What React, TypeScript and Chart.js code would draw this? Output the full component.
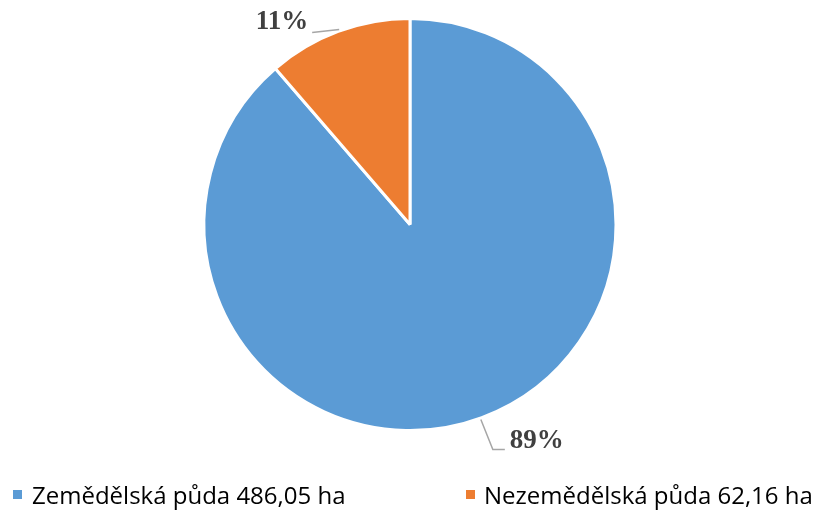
import React, { useEffect, useRef } from "react";
import { Chart, registerables } from "chart.js";

Chart.register(...registerables);

const categories = ["Zemědělská půda 486,05 ha", "Nezemědělská půda 62,16 ha"];
const values = [486.05, 62.16];
const percentLabels = ["89%", "11%"];
const colors = ["#5B9BD5", "#ED7D31"];

const labelPlugin = {
  id: "pctLabels",
  afterDatasetsDraw(chart: any) {
    const ctx = chart.ctx;
    const meta = chart.getDatasetMeta(0);
    ctx.save();
    ctx.font = "bold 27px 'Liberation Serif', 'Times New Roman', serif";
    ctx.fillStyle = "#404040";
    ctx.strokeStyle = "#A6A6A6";
    ctx.lineWidth = 1.5;
    meta.data.forEach((arc: any, i: number) => {
      const { x, y, startAngle, endAngle, outerRadius } = arc.getProps(
        ["x", "y", "startAngle", "endAngle", "outerRadius"],
        true
      );
      const mid = (startAngle + endAngle) / 2;
      const ex = x + Math.cos(mid) * outerRadius;
      const ey = y + Math.sin(mid) * outerRadius;
      ctx.beginPath();
      if (Math.cos(mid) >= 0) {
        ctx.moveTo(ex - 1, ey + 2);
        ctx.lineTo(ex + 11, ey + 32);
        ctx.lineTo(ex + 23, ey + 32);
        ctx.stroke();
        ctx.textAlign = "left";
        ctx.textBaseline = "middle";
        ctx.fillText(percentLabels[i], ex + 28, ey + 23);
      } else {
        ctx.moveTo(ex + 1, ey - 2);
        ctx.lineTo(ex - 26, ey + 1);
        ctx.stroke();
        ctx.textAlign = "right";
        ctx.textBaseline = "middle";
        ctx.fillText(percentLabels[i], ex - 30, ey - 9);
      }
    });
    ctx.restore();
  },
};

export default function App() {
  const ref = useRef<HTMLCanvasElement>(null);
  useEffect(() => {
    document.body.style.margin = "0";
    const chart = new Chart(ref.current!, {
      type: "pie",
      data: {
        labels: categories,
        datasets: [
          {
            data: values,
            backgroundColor: colors,
            borderColor: "#FFFFFF",
            borderWidth: 3,
          },
        ],
      },
      options: {
        animation: false,
        responsive: false,
        maintainAspectRatio: false,
        layout: { padding: { top: 17, bottom: 79, left: 0, right: 2 } },
        plugins: {
          legend: { display: false },
          tooltip: { enabled: false },
        },
      },
      plugins: [labelPlugin],
    });
    return () => chart.destroy();
  }, []);

  const legendText: React.CSSProperties = {
    position: "absolute",
    top: 480,
    fontFamily: "'Open Sans', sans-serif",
    fontSize: 24,
    lineHeight: "30px",
    color: "#000",
    whiteSpace: "nowrap",
  };
  const sq = (left: number, color: string): React.CSSProperties => ({
    position: "absolute",
    left,
    top: 490,
    width: 9,
    height: 9,
    background: color,
  });

  return (
    <div style={{ position: "fixed", left: 0, top: 0, width: 822, height: 511, background: "#fff" }}>
      <canvas ref={ref} width={822} height={511} style={{ position: "absolute", left: 0, top: 0 }} />
      <div style={sq(13, colors[0])} />
      <div style={{ ...legendText, left: 32 }}>{categories[0]}</div>
      <div style={sq(466, colors[1])} />
      <div style={{ ...legendText, left: 484 }}>{categories[1]}</div>
    </div>
  );
}
